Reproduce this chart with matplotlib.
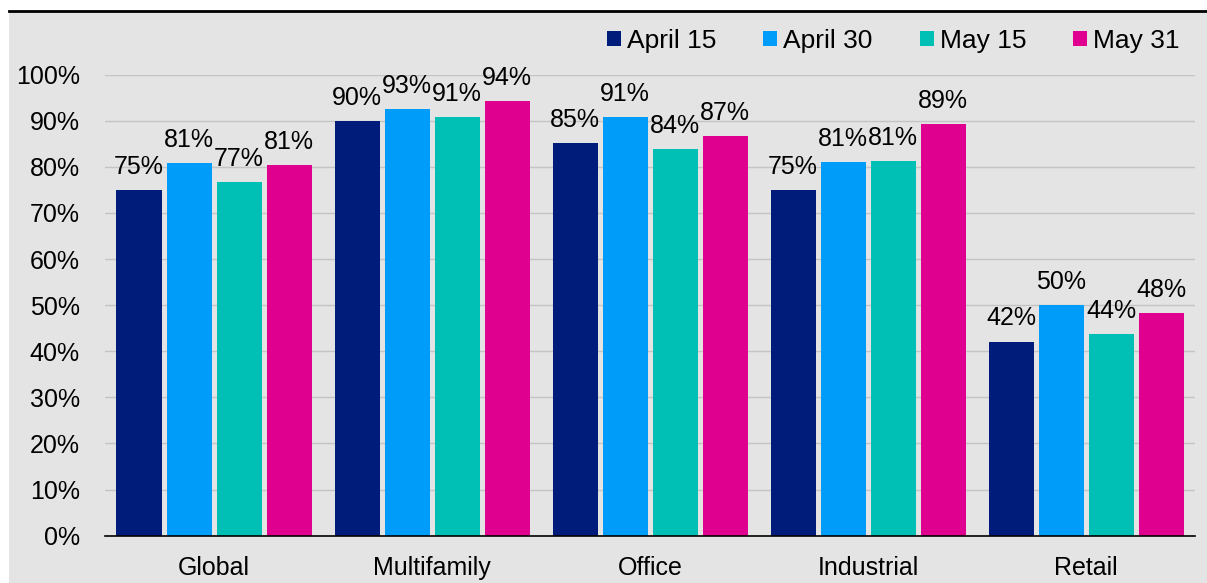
import matplotlib
matplotlib.use("Agg")
import matplotlib.pyplot as plt
from matplotlib.patches import Rectangle
from matplotlib.lines import Line2D
import numpy as np

plt.rcParams['font.family'] = ['Liberation Sans', 'DejaVu Sans']

categories = ['Global', 'Multifamily', 'Office', 'Industrial', 'Retail']
series_names = ['April 15', 'April 30', 'May 15', 'May 31']
april15 = [75.0, 89.9, 85.1, 75.0, 42.1]
april30 = [80.8, 92.5, 90.8, 81.0, 50.0]
may15 = [76.7, 90.8, 83.8, 81.2, 43.8]
may31 = [80.4, 94.3, 86.7, 89.3, 48.2]
label_texts = [
    ['75%', '90%', '85%', '75%', '42%'],
    ['81%', '93%', '91%', '81%', '50%'],
    ['77%', '91%', '84%', '81%', '44%'],
    ['81%', '94%', '87%', '89%', '48%'],
]
colors = ['#001c7a', '#009cfa', '#00c0b5', '#e0008f']
bg = '#e4e4e4'

fig = plt.figure(figsize=(12.07, 5.83), dpi=100, facecolor='white')
# grey panel and black top rule
fig.patches.append(Rectangle((9 / 1207, 0), 1 - 9 / 1207, 1 - 12 / 583,
                             transform=fig.transFigure, facecolor=bg, edgecolor='none', zorder=-10))
fig.lines.append(Line2D([9 / 1207, 1], [1 - 11 / 583, 1 - 11 / 583], transform=fig.transFigure,
                        color='black', linewidth=2))

ax = fig.add_axes([105 / 1207, 47.4 / 583, 1090 / 1207, 460.9 / 583])
ax.set_facecolor('none')

x = np.arange(len(categories))
step = 50 / 218
width = 45 / 218
all_series = [april15, april30, may15, may31]
for i, vals in enumerate(all_series):
    pos = x + (i - 1.5) * step
    bars = ax.bar(pos, vals, width, color=colors[i], label=series_names[i], zorder=3)
    for b, txt in zip(bars, label_texts[i]):
        ax.annotate(txt, (b.get_x() + b.get_width() / 2, b.get_height()),
                    xytext=(0, 8), textcoords='offset points',
                    ha='center', va='bottom', fontsize=18, zorder=4)

ax.set_xlim(-0.5, 4.5)
ax.set_ylim(0, 100)
ax.set_yticks(range(0, 101, 10))
ax.set_yticklabels([f'{v}%' for v in range(0, 101, 10)])
ax.set_xticks(x)
ax.set_xticklabels(categories)
ax.tick_params(axis='y', length=0, pad=18, labelsize=18)
ax.tick_params(axis='x', length=0, pad=15, labelsize=18)
ax.grid(axis='y', color='#c4c4c4', linewidth=1, zorder=0)
for s in ['top', 'right', 'left']:
    ax.spines[s].set_visible(False)
ax.spines['bottom'].set_color('black')
ax.spines['bottom'].set_linewidth(1.2)
ax.spines['bottom'].set_zorder(5)

handles, labels = ax.get_legend_handles_labels()
fig.legend(handles, labels, loc='center left', bbox_to_anchor=(607 / 1207, 1 - 41 / 583),
           ncol=4, frameon=False, fontsize=19, handlelength=0.53, handleheight=0.53,
           handletextpad=0.23, columnspacing=1.78, borderpad=0, borderaxespad=0)

fig.savefig('out.png', dpi=100, facecolor=fig.get_facecolor())
